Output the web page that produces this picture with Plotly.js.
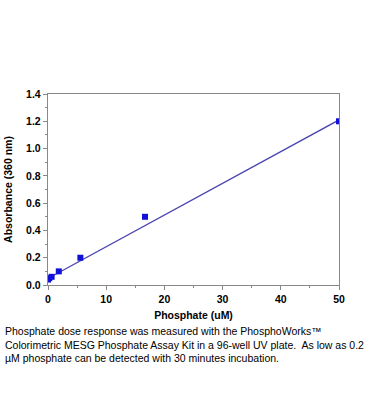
<!DOCTYPE html>
<html><head><meta charset="utf-8">
<script src="https://cdn.plot.ly/plotly-3.0.1.min.js"></script>
<style>html,body{margin:0;padding:0;background:#fff}#c{width:370px;height:420px}</style>
</head><body><div id="c"></div>
<script>
var phosphate = [0, 0.21, 0.62, 1.85, 5.56, 16.67, 50];
var absorbance = [0.04, 0.05, 0.06, 0.10, 0.20, 0.50, 1.20];
var fitX = [0.3, 50];
var fitY = [0.055, 1.21];
var xTicks = [0, 10, 20, 30, 40, 50];
var yTicks = [0, 0.2, 0.4, 0.6, 0.8, 1.0, 1.2, 1.4];
var caption = "Phosphate dose response was measured with the PhosphoWorks™<br>Colorimetric MESG Phosphate Assay Kit in a 96-well UV plate.  As low as 0.2<br>µM phosphate can be detected with 30 minutes incubation.";

var traces = [
  {x: fitX, y: fitY, mode: 'lines', line: {color: '#4a44b0', width: 1.3}, hoverinfo: 'skip'},
  {x: phosphate, y: absorbance, mode: 'markers', marker: {symbol: 'square', size: 6, color: '#1010d8'}}
];
var tf = {size: 10.5, family: 'Arial, Liberation Sans, sans-serif', color: '#000'};
function b(s){ return '<b>' + s + '</b>'; }
var layout = {
  width: 370, height: 420,
  margin: {l: 48, r: 31, t: 94, b: 135},
  showlegend: false,
  paper_bgcolor: '#fff', plot_bgcolor: '#fff',
  font: {family: 'Arial, Liberation Sans, sans-serif', color: '#000'},
  xaxis: {
    range: [0, 50], tickvals: xTicks, ticktext: xTicks.map(function(v){return b(String(v));}),
    showgrid: false, zeroline: false, showline: true, mirror: true,
    linecolor: '#888', linewidth: 1.2, ticks: 'outside', ticklen: 4, tickcolor: '#888',
    minor: {dtick: 5, ticks: 'outside', ticklen: 2, tickcolor: '#888'},
    tickfont: tf,
    title: {text: '<b>Phosphate (uM)</b>', font: {size: 10.5}, standoff: 7}
  },
  yaxis: {
    range: [0, 1.4], tickvals: yTicks, ticktext: yTicks.map(function(v){return b(v.toFixed(1));}),
    showgrid: false, zeroline: false, showline: true, mirror: true,
    linecolor: '#888', linewidth: 1.2, ticks: 'outside', ticklen: 4, tickcolor: '#888',
    minor: {dtick: 0.1, ticks: 'outside', ticklen: 2, tickcolor: '#888'},
    tickfont: tf,
    title: {text: '<b>Absorbance (360 nm)</b>', font: {size: 10.5}, standoff: 11}
  },
  annotations: [{
    xref: 'paper', yref: 'paper', x: -0.155, y: -0.2, xanchor: 'left', yanchor: 'top',
    text: caption, showarrow: false, align: 'left',
    font: {size: 10.5, family: 'Arial, Liberation Sans, sans-serif', color: '#000'}
  }]
};
Plotly.newPlot('c', traces, layout, {displayModeBar: false, staticPlot: true});
</script></body></html>
